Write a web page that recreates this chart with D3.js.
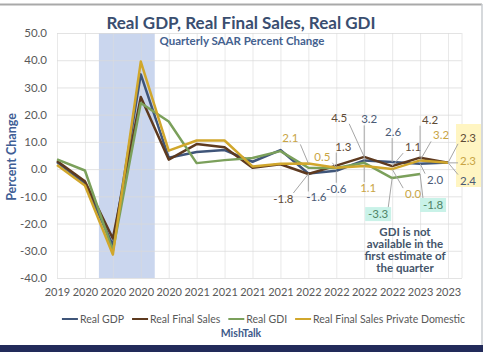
<!DOCTYPE html>
<html lang="en">
<head>
<meta charset="UTF-8">
<title>Real GDP, Real Final Sales, Real GDI</title>
<script src="https://d3js.org/d3.v7.min.js"></script>
<style>
  body { margin: 0; background: #fff; }
  text { font-family: Lato, "Open Sans", sans-serif; }
</style>
</head>
<body>
<script>
    // quarter labels (2019Q4 .. 2023Q2)
    const quarters = ["2019", "2020", "2020", "2020", "2020", "2021", "2021", "2021", "2021",
        "2022", "2022", "2022", "2022", "2023", "2023"];

    // series values, SAAR % change
    const realGDP = [2.6, -5.3, -28.0, 34.8, 4.2, 6.3, 7.0, 2.7, 7.0, -1.6, -0.6, 3.2, 2.6, 2.0, 2.4];
    const realFinalSales = [3.0, -4.5, -25.5, 26.5, 3.5, 9.2, 8.0, 0.5, 1.8, -1.8, 1.3, 4.5, 1.1, 4.2, 2.3];
    const realGDI = [3.6, -0.5, -30.0, 24.3, 17.5, 2.2, 3.3, 4.1, 6.6, 0.5, 0.4, 2.3, -3.3, -1.8, null];
    const privateDomestic = [1.5, -6.0, -31.4, 39.5, 6.8, 10.5, 10.5, 1.0, 2.0, 2.1, 0.5, 1.1, 0.0, 3.2, 2.3];

    const yTicks = [-40, -30, -20, -10, 0, 10, 20, 30, 40, 50];

    const series = [
        { key: "gdp", name: "Real GDP", values: realGDP, color: "#3F5579", label: "#4A5A75" },
        { key: "fs", name: "Real Final Sales", values: realFinalSales, color: "#5E3A1F", label: "#5E4B36" },
        { key: "gdi", name: "Real GDI", values: realGDI, color: "#7BA05B", label: "#4F8466" },
        { key: "pd", name: "Real Final Sales Private Domestic", values: privateDomestic, color: "#D1A72C", label: "#C9A545" }
    ];

    // data callouts: series, quarter index, offset of label from point
    const callouts = [
        ["fs", 9, -25, 25], ["gdp", 9, 8, 24], ["pd", 9, -18, -25],
        ["pd", 10, -14, -11], ["fs", 10, 7, -19], ["gdp", 10, 0, 18],
        ["fs", 11, -25, -39], ["gdp", 11, 5, -41], ["pd", 11, 4, 22],
        ["gdp", 12, 1, -30], ["fs", 12, 21, -19], ["pd", 12, 21, 25], ["gdi", 12, -14, 36],
        ["fs", 13, 10, -38], ["pd", 13, 21, -25], ["gdp", 13, 15, 16], ["gdi", 13, 13, 31],
        ["fs", 14, 20, -25], ["pd", 14, 20, -2], ["gdp", 14, 20, 18]
    ];

    const W = 485, H = 354;
    const plot = { left: 57, right: 462, top: 33, bottom: 278 };
    // plain hyphen for negatives, like the original
    const fmt = v => d3.format(".1f")(v).replace("\u2212", "-");

    const svg = d3.select("body").append("svg")
        .attr("width", W)
        .attr("height", H);

    // frame
    svg.append("line").attr("x1", 0).attr("x2", 482).attr("y1", 4.5).attr("y2", 4.5)
        .attr("stroke", "#A9A9A9").attr("stroke-width", 2);
    svg.append("line").attr("x1", 482).attr("x2", 482).attr("y1", 4).attr("y2", 345)
        .attr("stroke", "#C8CDD0").attr("stroke-width", 1.5);
    svg.append("rect").attr("x", 0).attr("y", 345).attr("width", 483).attr("height", 7)
        .attr("fill", "#222B5A");

    const x = d3.scalePoint()
        .domain(d3.range(quarters.length))
        .range([plot.left, 448]);

    const y = d3.scaleLinear()
        .domain([-40, 50])
        .range([plot.bottom, plot.top]);

    // recession shading
    const step = x.step();
    svg.append("rect")
        .attr("x", x(2) - step / 2)
        .attr("y", plot.top)
        .attr("width", step * 2)
        .attr("height", plot.bottom - plot.top)
        .attr("fill", "#CAD6EE");

    // gridlines
    svg.append("g")
        .attr("transform", "translate(" + plot.left + ",0)")
        .call(d3.axisLeft(y).tickValues(yTicks).tickSize(-(plot.right - plot.left)).tickFormat(""))
        .call(g => g.select(".domain").remove())
        .call(g => g.selectAll("line").attr("stroke", "#DADADA").attr("stroke-opacity", 0.75));

    svg.append("g")
        .attr("transform", "translate(0," + plot.top + ")")
        .call(d3.axisBottom(x).tickSize(plot.bottom - plot.top).tickFormat(""))
        .call(g => g.select(".domain").remove())
        .call(g => g.selectAll("line").attr("stroke", "#DADADA").attr("stroke-opacity", 0.6));

    svg.append("line")
        .attr("x1", plot.right).attr("x2", plot.right)
        .attr("y1", plot.top).attr("y2", plot.bottom)
        .attr("stroke", "#E8E8E8");

    // axes labels
    svg.append("g")
        .attr("transform", "translate(" + plot.left + ",0)")
        .call(d3.axisLeft(y).tickValues(yTicks).tickSize(0).tickPadding(10).tickFormat(fmt))
        .call(g => g.select(".domain").remove())
        .call(g => g.selectAll("text")
            .attr("fill", "#595959")
            .style("font-size", "11.5px")
            .style("font-family", "Lato, sans-serif"));

    svg.append("g")
        .attr("transform", "translate(0," + plot.bottom + ")")
        .call(d3.axisBottom(x).tickSize(0).tickPadding(10).tickFormat(i => quarters[i]))
        .call(g => g.select(".domain").remove())
        .call(g => g.selectAll("text")
            .attr("fill", "#595959")
            .style("font-size", "11px")
            .style("font-family", "Lato, sans-serif"));

    // lines
    const line = d3.line()
        .defined(d => d != null)
        .x((d, i) => x(i))
        .y(d => y(d));

    series.forEach(s => {
        svg.append("path")
            .datum(s.values)
            .attr("fill", "none")
            .attr("stroke", s.color)
            .attr("stroke-width", 2.5)
            .attr("stroke-linejoin", "round")
            .attr("d", line);
    });

    // highlight behind the last quarter's labels
    svg.append("rect")
        .attr("x", 456).attr("y", 124)
        .attr("width", 25).attr("height", 63)
        .attr("fill", "#FFF5C2");

    // callouts with leader lines
    const byKey = {};
    series.forEach(s => byKey[s.key] = s);

    callouts.forEach(([key, i, dx, dy]) => {
        const s = byKey[key];
        const v = s.values[i];
        const px = x(i), py = y(v);
        const cx = px + dx, cy = py + dy;
        const bw = 18, bh = 12;

        const ex = Math.max(cx - bw / 2 - 1, Math.min(px, cx + bw / 2 + 1));
        const ey = Math.max(cy - bh / 2, Math.min(py, cy + bh / 2));
        if (Math.hypot(ex - px, ey - py) > 6) {
            svg.append("line")
                .attr("x1", ex).attr("y1", ey)
                .attr("x2", px).attr("y2", py)
                .attr("stroke", "#A6A6A6")
                .attr("stroke-width", 1);
        }

        if (key === "gdi") {
            svg.append("rect")
                .attr("x", cx - 13).attr("y", cy - 7)
                .attr("width", 26).attr("height", 14)
                .attr("fill", "#C9F2E8");
        }

        svg.append("text")
            .attr("x", cx)
            .attr("y", cy)
            .attr("dy", "0.35em")
            .attr("text-anchor", "middle")
            .attr("fill", s.label)
            .style("font-size", "11.5px")
            .text(fmt(v));
    });

    // GDI note
    const note = ["GDI is not", "available in the", "first estimate of", "the quarter"];
    svg.append("text")
        .attr("x", 405)
        .attr("y", 236)
        .attr("text-anchor", "middle")
        .attr("fill", "#44546A")
        .style("font-size", "11.5px")
        .style("font-weight", "bold")
        .selectAll("tspan")
        .data(note)
        .enter()
        .append("tspan")
        .attr("x", 405)
        .attr("dy", (d, i) => i === 0 ? 0 : 12)
        .text(d => d);

    // titles
    svg.append("text")
        .attr("x", 241).attr("y", 29)
        .attr("text-anchor", "middle")
        .attr("fill", "#3A4E70")
        .style("font-size", "17px")
        .style("font-weight", "bold")
        .text("Real GDP, Real Final Sales, Real GDI");

    svg.append("text")
        .attr("x", 242).attr("y", 45)
        .attr("text-anchor", "middle")
        .attr("fill", "#44618F")
        .style("font-size", "11.5px")
        .style("font-weight", "bold")
        .text("Quarterly SAAR Percent Change");

    svg.append("text")
        .attr("transform", "translate(16,157) rotate(-90)")
        .attr("text-anchor", "middle")
        .attr("fill", "#3F5E95")
        .style("font-size", "12.5px")
        .style("font-weight", "bold")
        .text("Percent Change");

    // legend, laid out from measured text widths
    const legend = svg.append("g").attr("transform", "translate(0,319)");
    let lx = 0;
    const items = [];
    series.forEach(s => {
        const g = legend.append("g");
        g.append("line")
            .attr("x1", 0).attr("x2", 16)
            .attr("stroke", s.color)
            .attr("stroke-width", 2);
        const t = g.append("text")
            .attr("x", 18)
            .attr("dy", "0.35em")
            .attr("fill", "#595959")
            .style("font-size", "10.5px")
            .text(s.name);
        const w = 18 + t.node().getComputedTextLength();
        items.push({ g, off: lx });
        lx += w + 8;
    });
    const start = (63 + 464) / 2 - (lx - 8) / 2;
    items.forEach(it => it.g.attr("transform", "translate(" + (start + it.off) + ",0)"));

    svg.append("text")
        .attr("x", 241).attr("y", 337)
        .attr("text-anchor", "middle")
        .attr("fill", "#3D5A8A")
        .style("font-size", "10.5px")
        .style("font-weight", "bold")
        .text("MishTalk");
</script>
</body>
</html>
